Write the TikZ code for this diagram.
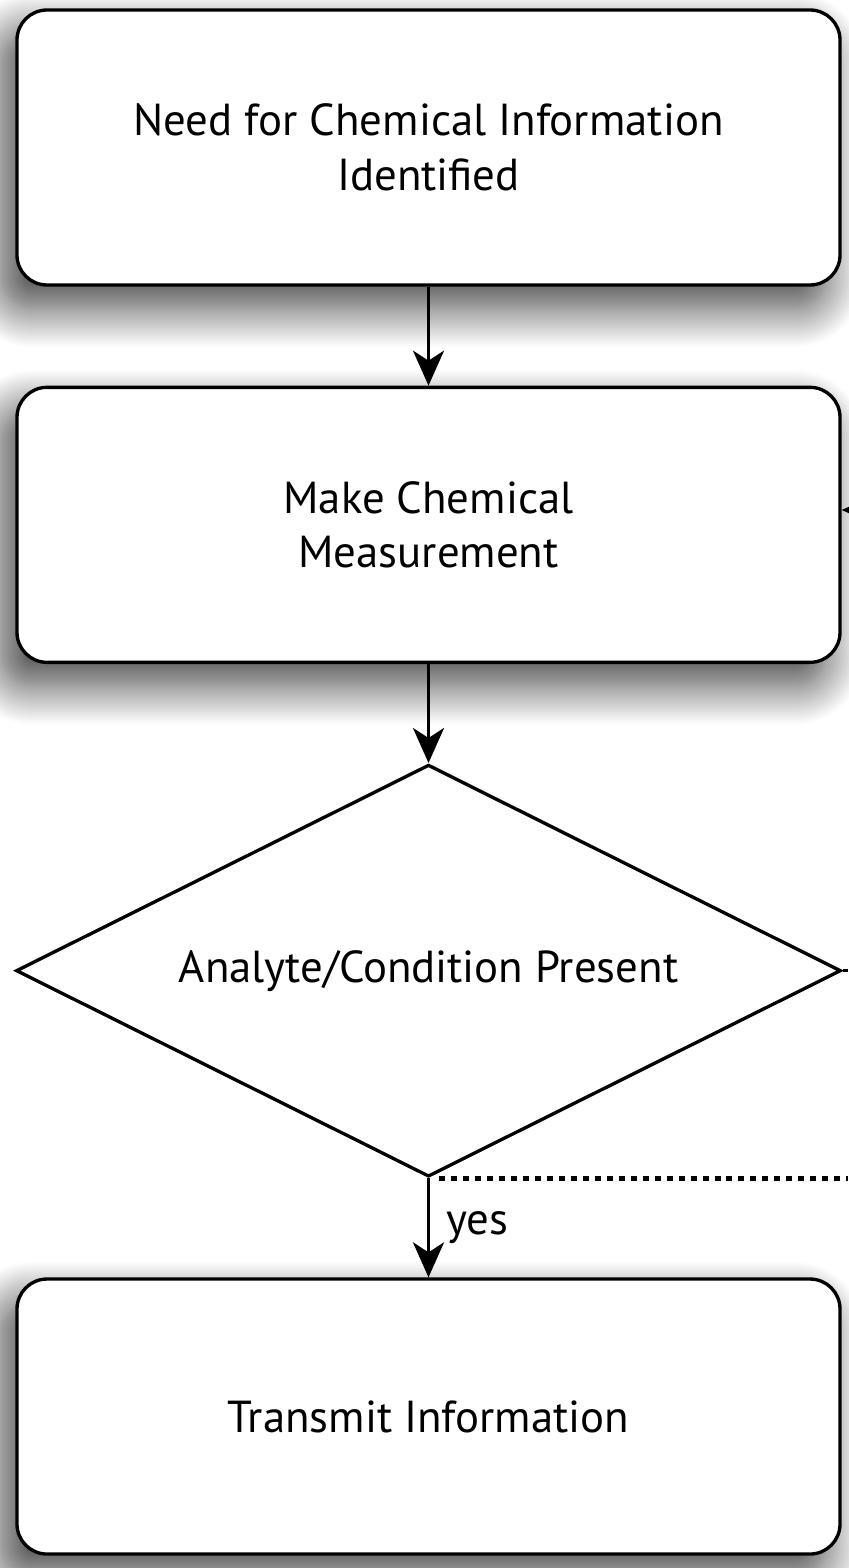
\documentclass[tikz,border=0pt]{standalone}
\usepackage{fontspec}
\setmainfont{PT Sans}
\usetikzlibrary{arrows.meta,positioning,calc,shapes.geometric,shadows.blur}

\begin{document}
\begin{tikzpicture}[
    box/.style={draw, line width=1.9pt, rounded corners=0.6cm, fill=white,
        minimum width=16.46cm, minimum height=5.5cm, align=center,
        font=\fontsize{25.5}{31}\selectfont,
        blur shadow={shadow xshift=-0.3cm, shadow yshift=-0.45cm,
            shadow blur radius=0.8cm, shadow blur steps=25, shadow opacity=75}},
    test/.style={draw, diamond, line width=1.9pt, inner sep=0pt, aspect=2,
        minimum width=16.5cm, minimum height=8.24cm,
        font=\fontsize{25.5}{31}\selectfont},
    arr/.style={-{Stealth[length=0.7cm, width=0.62cm, inset=0.2cm]}, line width=1.9pt},
    node distance=1.98cm
]
\useasboundingbox (0,0) rectangle (16.96,-31.36);
\node[box] (need) at (8.57,-2.95) {Need for Chemical Information\\Identified};
\node[box, below=of need] (measure) {Make Chemical\\Measurement};
\node[test, below=of measure] (present) {Analyte/Condition Present};
\node[box, below=of present] (transmit) {Transmit Information};

% edges leaving the cropped view on the right
\coordinate (back) at (16.96,-10.2);
\coordinate (no) at (16.96,-19.4);
\coordinate (other) at (16.96,-23.6);

\draw[arr] (need) -- (measure);
\draw[arr] (measure) -- (present);
\draw[arr] (present.south) -- (transmit.north)
    node[midway, right=0.2cm, font=\fontsize{25.5}{31}\selectfont] {yes};
\draw[arr] (back) -- (back -| measure.east);
\draw[line width=1.9pt] (present.east) -- (present.east -| no);
\draw[line width=0.1cm, dash pattern=on 0.12cm off 0.12cm]
    ([xshift=0.2cm]present.south) -- (present.south -| other);
\end{tikzpicture}
\end{document}
